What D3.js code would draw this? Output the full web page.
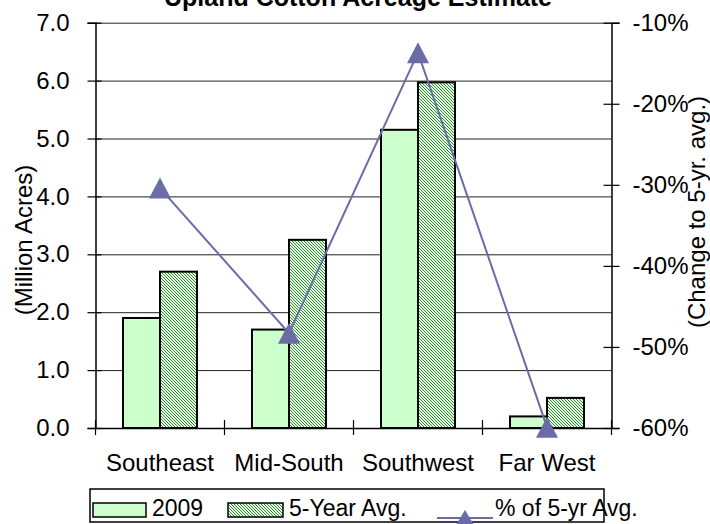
<!DOCTYPE html>
<html>
<head>
<meta charset="utf-8">
<script src="https://cdn.jsdelivr.net/npm/d3@7"></script>
<style>
  html, body { margin: 0; padding: 0; background: #fff; }
  svg { display: block; font-family: "Liberation Sans", Arial, sans-serif; }
</style>
</head>
<body>
<svg id="chart" width="710" height="524"></svg>
<script>
// Upland cotton acreage by region (million acres) and change vs. 5-year average (%)
const regions = ["Southeast", "Mid-South", "Southwest", "Far West"];
const acres2009 = [1.9, 1.7, 5.15, 0.2];
const acresAvg5 = [2.7, 3.25, 5.97, 0.52];
const pctOfAvg = [-30.4, -48.3, -13.7, -59.9];
const leftTicks = [0, 1, 2, 3, 4, 5, 6, 7];
const rightTicks = [-60, -50, -40, -30, -20, -10];

const svg = d3.select("#chart");
const plot = { left: 95.5, right: 611.5, top: 22.7, bottom: 428 };

const x = d3.scaleBand().domain(regions).range([plot.left, plot.right]).padding(0);
const yL = d3.scaleLinear().domain([0, 7]).range([plot.bottom, plot.top]);
const yR = d3.scaleLinear().domain([-60, -10]).range([plot.bottom, plot.top]);
const barW = 37;

const lineColor = "#6b6ba8";
const fill2009 = "#ccffcc";

// fine pixel diagonal hatch for the 5-year average bars
const defs = svg.append("defs");
const pat = defs.append("pattern")
  .attr("id", "hatch").attr("patternUnits", "userSpaceOnUse")
  .attr("width", 3).attr("height", 3);
pat.append("rect").attr("width", 3).attr("height", 3).attr("fill", "#e8ffe8");
pat.selectAll("rect.px").data([0, 1, 2]).join("rect")
  .attr("class", "px")
  .attr("x", d => d).attr("y", d => d).attr("width", 1).attr("height", 1)
  .attr("fill", "#2e8e2e").attr("shape-rendering", "crispEdges");

// horizontal gridlines
svg.append("g")
  .attr("transform", `translate(${plot.left},0)`)
  .call(d3.axisLeft(yL).tickValues(leftTicks.slice(1)).tickSize(-(plot.right - plot.left)).tickFormat(""))
  .call(g => g.select(".domain").remove())
  .call(g => g.selectAll(".tick line").attr("stroke", "#222").attr("stroke-width", 1));

// bars
const groups = svg.append("g").selectAll("g").data(regions).join("g");
groups.append("rect")
  .attr("x", d => x(d) + x.bandwidth() / 2 - barW)
  .attr("y", (d, i) => yL(acres2009[i]))
  .attr("width", barW)
  .attr("height", (d, i) => yL(0) - yL(acres2009[i]))
  .attr("fill", fill2009).attr("stroke", "#000").attr("stroke-width", 2);
groups.append("rect")
  .attr("x", d => x(d) + x.bandwidth() / 2)
  .attr("y", (d, i) => yL(acresAvg5[i]))
  .attr("width", barW)
  .attr("height", (d, i) => yL(0) - yL(acresAvg5[i]))
  .attr("fill", "url(#hatch)").attr("stroke", "#000").attr("stroke-width", 2);

// axes
const tickStyle = g => {
  g.selectAll("text").attr("font-size", 24).attr("fill", "#000")
    .attr("font-family", "'Liberation Sans', Arial, sans-serif");
  g.select(".domain").attr("stroke", "#000").attr("stroke-width", 1.5);
  g.selectAll(".tick line").attr("stroke", "#000").attr("stroke-width", 1.2);
};

svg.append("g")
  .attr("transform", `translate(${plot.left},0)`)
  .call(d3.axisLeft(yL).tickValues(leftTicks).tickFormat(d3.format(".1f")).tickSizeOuter(0).tickSize(8).tickPadding(18))
  .call(tickStyle)
  .call(g => g.selectAll(".tick line").attr("x1", 6));

svg.append("g")
  .attr("transform", `translate(${plot.right},0)`)
  .call(d3.axisRight(yR).tickValues(rightTicks).tickFormat(d => d + "%").tickSizeOuter(0).tickSize(8).tickPadding(13))
  .call(tickStyle)
  .call(g => g.selectAll(".tick line").attr("x1", -8));

const xAxis = svg.append("g")
  .attr("transform", `translate(0,${plot.bottom})`)
  .call(d3.axisBottom(x).tickSize(0).tickSizeOuter(0).tickPadding(26))
  .call(tickStyle);
xAxis.selectAll(".tick line").remove();
// category separators crossing the axis
xAxis.selectAll("line.sep").data(d3.range(regions.length + 1)).join("line")
  .attr("class", "sep")
  .attr("x1", i => plot.left + i * x.step()).attr("x2", i => plot.left + i * x.step())
  .attr("y1", -8).attr("y2", 7)
  .attr("stroke", "#000").attr("stroke-width", 1.2);

// percent-of-average line with triangle markers
const tri = (w, h) => `M0,${-h / 2}L${w / 2},${h / 2}L${-w / 2},${h / 2}Z`;
const line = d3.line().x((d, i) => x(regions[i]) + x.bandwidth() / 2).y(d => yR(d));
svg.append("path").datum(pctOfAvg)
  .attr("d", line).attr("fill", "none").attr("stroke", lineColor).attr("stroke-width", 2);
svg.append("g").selectAll("path").data(pctOfAvg).join("path")
  .attr("transform", (d, i) => `translate(${x(regions[i]) + x.bandwidth() / 2},${yR(d)})`)
  .attr("d", tri(22, 21)).attr("fill", lineColor);

// titles
svg.append("text").attr("x", 358).attr("y", 6).attr("text-anchor", "middle")
  .attr("font-size", 25).attr("font-weight", "bold").text("Upland Cotton Acreage Estimate");
svg.append("text").attr("transform", "translate(32,240) rotate(-90)").attr("text-anchor", "middle")
  .attr("font-size", 24).text("(Million Acres)");
svg.append("text").attr("transform", "translate(705,212) rotate(-90)").attr("text-anchor", "middle")
  .attr("font-size", 24).text("(Change to 5-yr. avg.)");

// legend
const leg = svg.append("g");
leg.append("rect").attr("x", 90).attr("y", 489).attr("width", 514).attr("height", 33)
  .attr("fill", "#fff").attr("stroke", "#000").attr("stroke-width", 1.5);
leg.append("rect").attr("x", 93).attr("y", 503).attr("width", 53).attr("height", 14)
  .attr("fill", fill2009).attr("stroke", "#000").attr("stroke-width", 1.5);
leg.append("text").attr("x", 152).attr("y", 516).attr("font-size", 23).text("2009");
leg.append("rect").attr("x", 228).attr("y", 503).attr("width", 55).attr("height", 14)
  .attr("fill", "url(#hatch)").attr("stroke", "#000").attr("stroke-width", 1.5);
leg.append("text").attr("x", 289).attr("y", 516).attr("font-size", 23).text("5-Year Avg.");
leg.append("line").attr("x1", 437).attr("x2", 493).attr("y1", 518).attr("y2", 518)
  .attr("stroke", lineColor).attr("stroke-width", 2);
leg.append("path").attr("transform", "translate(465,517)").attr("d", tri(17, 14)).attr("fill", lineColor);
leg.append("text").attr("x", 495).attr("y", 516).attr("font-size", 23).text("% of 5-yr Avg.");
</script>
</body>
</html>
